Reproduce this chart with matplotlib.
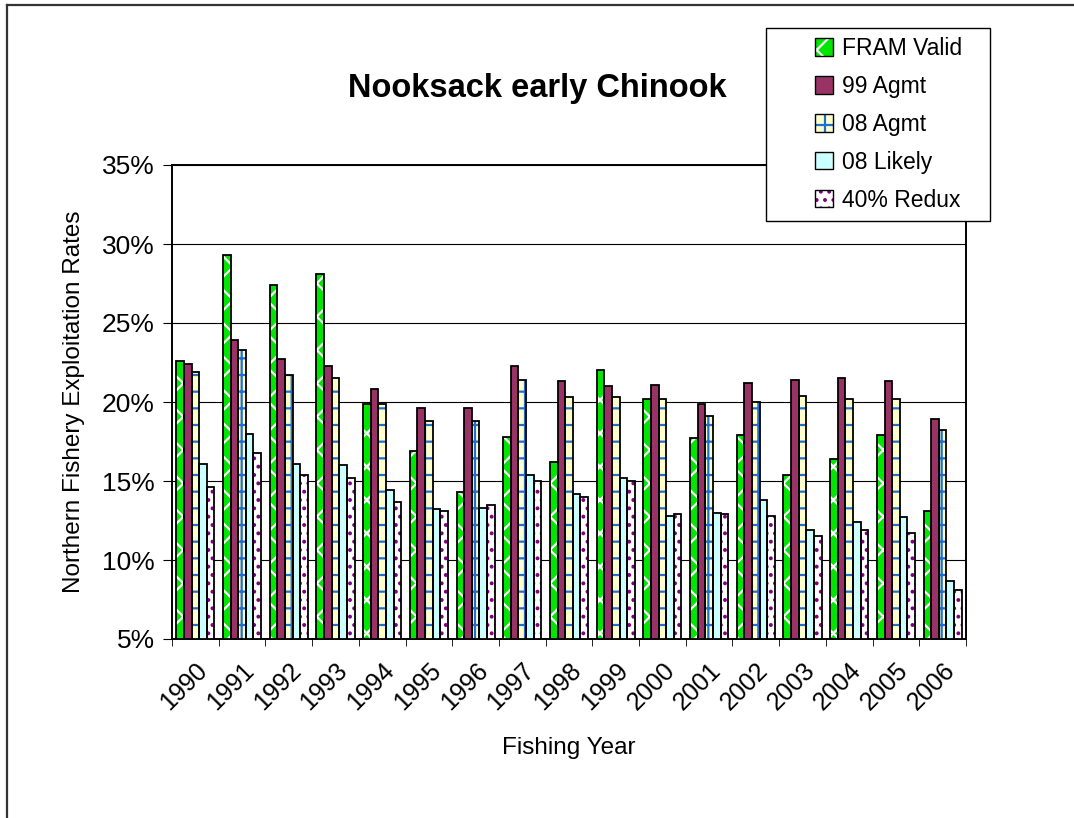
import matplotlib.pyplot as plt
import numpy as np
from matplotlib.patches import Rectangle, Patch
from matplotlib.lines import Line2D
from matplotlib.legend_handler import HandlerTuple
from matplotlib.ticker import FuncFormatter, MultipleLocator

plt.rcParams['font.family'] = ['Liberation Sans', 'DejaVu Sans']
plt.rcParams['hatch.linewidth'] = 1.6

years = ['1990', '1991', '1992', '1993', '1994', '1995', '1996', '1997', '1998',
         '1999', '2000', '2001', '2002', '2003', '2004', '2005', '2006']

fram_valid = [22.6, 29.3, 27.4, 28.1, 19.9, 16.9, 14.3, 17.8, 16.2,
              22.0, 20.2, 17.7, 17.9, 15.4, 16.4, 17.9, 13.1]
agmt_99 = [22.4, 23.9, 22.7, 22.3, 20.8, 19.6, 19.6, 22.3, 21.3,
           21.0, 21.1, 19.9, 21.2, 21.4, 21.5, 21.3, 18.9]
agmt_08 = [21.9, 23.3, 21.7, 21.5, 19.9, 18.8, 18.8, 21.4, 20.3,
           20.3, 20.2, 19.1, 20.0, 20.4, 20.2, 20.2, 18.2]
likely_08 = [16.1, 18.0, 16.1, 16.0, 14.4, 13.2, 13.3, 15.4, 14.2,
             15.2, 12.8, 13.0, 13.8, 11.9, 12.4, 12.7, 8.7]
redux_40 = [14.6, 16.8, 15.4, 15.2, 13.7, 13.1, 13.5, 15.0, 14.0,
            15.0, 12.9, 12.9, 12.8, 11.5, 11.9, 11.7, 8.1]

series = [
    ('FRAM Valid', fram_valid, '#00e600', 'white', 'x'),
    ('99 Agmt', agmt_99, '#993366', None, None),
    ('08 Agmt', agmt_08, '#ffffcc', '#1f6fd0', '+'),
    ('08 Likely', likely_08, '#ccffff', None, None),
    ('40% Redux', redux_40, 'white', '#800080', '..'),
]

W, H = 1074, 818
fig = plt.figure(figsize=(W / 100, H / 100), dpi=100)
ax = fig.add_axes([172 / W, 1 - 639 / H, (966 - 172) / W, (639 - 165) / H])

x = np.arange(len(years))
w = 0.163
base = 5
for i, (name, vals, face, hcol, hatch) in enumerate(series):
    pos = x - 2 * w + i * w
    heights = np.array(vals) - base
    if hatch:
        ax.bar(pos, heights, w, bottom=base, color=face, edgecolor=hcol,
               hatch=hatch, linewidth=0, zorder=3)
    else:
        ax.bar(pos, heights, w, bottom=base, color=face, linewidth=0, zorder=3)
    ax.bar(pos, heights, w, bottom=base, facecolor='none', edgecolor='black',
           linewidth=1.3, zorder=4)

ax.set_ylim(5, 35)
ax.set_xlim(-0.5, len(years) - 0.5)
ax.yaxis.set_major_locator(MultipleLocator(5))
ax.yaxis.set_major_formatter(FuncFormatter(lambda v, p: f'{v:.0f}%'))
ax.yaxis.grid(True, color='black', linewidth=0.8, zorder=0)
ax.set_axisbelow(True)

ax.set_xticks(x)
ax.set_xticklabels(years, rotation=45, ha='right', rotation_mode='anchor')
ax.set_xticks(np.arange(-0.5, len(years)), minor=True)
ax.tick_params(axis='x', which='major', length=0, pad=14, labelsize=18)
ax.tick_params(axis='x', which='minor', length=5, direction='out')
ax.tick_params(axis='y', length=6.5, direction='out', labelsize=19, pad=6)
for s in ax.spines.values():
    s.set_linewidth(1.4)

ax.set_ylabel('Northern Fishery Exploitation Rates', fontsize=17.5, labelpad=12)
ax.set_xlabel('Fishing Year', fontsize=17.5, labelpad=16)
fig.text(537 / W, 1 - 88 / H, 'Nooksack early Chinook', ha='center', va='center',
         fontsize=23.5, fontweight='bold')

handles = []
labels = []
for name, vals, face, hcol, hatch in series:
    outline = Patch(facecolor='none', edgecolor='black', linewidth=1)
    if hatch:
        fill = Patch(facecolor=face, edgecolor=hcol, hatch=hatch, linewidth=0)
    else:
        fill = Patch(facecolor=face, linewidth=0)
    handles.append((fill, outline))
    labels.append(name)
fig.patches.append(Rectangle((766 / W, 1 - 221 / H), (990 - 766) / W, (221 - 28) / H,
                             transform=fig.transFigure, facecolor='white',
                             edgecolor='black', linewidth=1, zorder=5))
leg = fig.legend(handles, labels, loc='upper left',
                 bbox_to_anchor=(815 / W, 1 - 37 / H),
                 handler_map={tuple: HandlerTuple(ndivide=1, pad=0)},
                 fontsize=16.5, frameon=False,
                 handlelength=0.8, handleheight=0.8, labelspacing=0.65,
                 borderpad=0, handletextpad=0.4, borderaxespad=0)
leg.set_zorder(6)

fig.add_artist(Line2D([7 / W, 1], [1 - 5 / H, 1 - 5 / H], color='#333333', linewidth=1.6))
fig.add_artist(Line2D([7 / W, 7 / W], [0, 1 - 5 / H], color='#333333', linewidth=1.6))

fig.savefig('out.png', dpi=100)
